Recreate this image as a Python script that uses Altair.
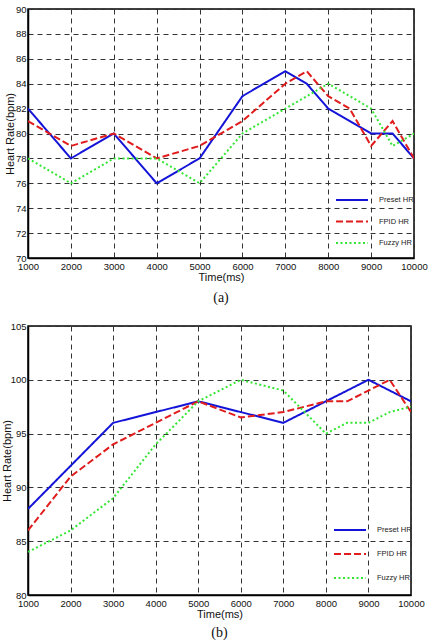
import altair as alt
import pandas as pd

# ---------- data (a) ----------
a_preset_x = [1000, 2000, 3000, 4000, 5000, 6000, 7000, 7500, 8000, 9000, 9500, 10000]
a_preset_y = [82, 78, 80, 76, 78, 83, 85, 84, 82, 80, 80, 78]
a_fpid_x = [1000, 2000, 3000, 4000, 5000, 6000, 7000, 7500, 8000, 8500, 9000, 9500, 10000]
a_fpid_y = [81, 79, 80, 78, 79, 81, 84, 85, 83, 82, 79, 81, 78]
a_fuzzy_x = [1000, 2000, 3000, 4000, 5000, 6000, 7000, 8000, 9000, 9500, 10000]
a_fuzzy_y = [78, 76, 78, 78, 76, 80, 82, 84, 82, 79, 80]
a_names = ["Preset HR", "FPID  HR", "Fuzzy  HR"]

# ---------- data (b) ----------
b_preset_x = [1000, 2000, 3000, 4000, 5000, 6000, 7000, 8000, 9000, 10000]
b_preset_y = [88, 92, 96, 97, 98, 97, 96, 98, 100, 98]
b_fpid_x = [1000, 2000, 3000, 4000, 5000, 6000, 7000, 8000, 8500, 9000, 9500, 10000]
b_fpid_y = [86, 91, 94, 96, 98, 96.5, 97, 98, 98, 99, 100, 97]
b_fuzzy_x = [1000, 1500, 2000, 3000, 4000, 5000, 6000, 7000, 8000, 8500, 9000, 9500, 10000]
b_fuzzy_y = [84, 85, 86, 89, 94, 98, 100, 99, 95, 96, 96, 97, 97.5]
b_names = ["Preset HR", "FPID HR", "Fuzzy HR"]

x_ticks = [1000, 2000, 3000, 4000, 5000, 6000, 7000, 8000, 9000, 10000]
a_y_ticks = [70, 72, 74, 76, 78, 80, 82, 84, 86, 88, 90]
b_y_ticks = [80, 85, 90, 95, 100, 105]

colors = ["#1414d8", "#e01c1c", "#33e633"]
dashes = [[1, 0], [7, 3], [2, 2.5]]


def frame(xs_list, ys_list, names):
    rows = []
    for xs, ys, n in zip(xs_list, ys_list, names):
        for x, y in zip(xs, ys):
            rows.append({"t": x, "hr": y, "series": n})
    return pd.DataFrame(rows)


df_a = frame([a_preset_x, a_fpid_x, a_fuzzy_x], [a_preset_y, a_fpid_y, a_fuzzy_y], a_names)
df_b = frame([b_preset_x, b_fpid_x, b_fuzzy_x], [b_preset_y, b_fpid_y, b_fuzzy_y], b_names)

FONT = "Liberation Sans"


def panel(df, names, y_dom, y_ticks, w, h, caption, cap_off, title_x, leg_x, leg_y, row_pad):
    legend = alt.Legend(
        title=None, orient="none", legendX=leg_x, legendY=leg_y,
        symbolType="M-3.2,0H3.2", symbolSize=100, symbolStrokeWidth=2,
        labelOffset=21, labelFontSize=7.5, labelFont=FONT, labelColor="#222",
        rowPadding=row_pad, padding=0,
    )
    return alt.Chart(df).mark_line(strokeWidth=2, clip=True).encode(
        x=alt.X("t:Q", title="Time(ms)",
                scale=alt.Scale(domain=[1000, 10000], nice=False),
                axis=alt.Axis(values=x_ticks, format="d")),
        y=alt.Y("hr:Q", title="Heart Rate(bpm)",
                scale=alt.Scale(domain=y_dom, nice=False, zero=False),
                axis=alt.Axis(values=y_ticks, format="d", titleX=title_x)),
        color=alt.Color("series:N", scale=alt.Scale(domain=names, range=colors), legend=legend),
        strokeDash=alt.StrokeDash("series:N", scale=alt.Scale(domain=names, range=dashes), legend=legend),
    ).properties(
        width=w, height=h,
        title=alt.TitleParams(caption, orient="bottom", font="Liberation Serif",
                              fontSize=14, fontWeight="normal", offset=cap_off, color="#111"),
    )


pa = panel(df_a, a_names, [70, 90], a_y_ticks, 386, 249, "(a)", 8.5, -13, 318, 185, 11.5)
pb = panel(df_b, b_names, [80, 105], b_y_ticks, 383, 269, "(b)", 6, -16, 316, 198, 14)

chart = alt.concat(pa, pb, columns=1, spacing=14, align="none").resolve_scale(
    color="independent", strokeDash="independent"
).resolve_legend(color="independent", strokeDash="independent").properties(
    padding={"left": 0, "top": 3, "right": 0, "bottom": 0},
    background="white",
).configure_view(
    stroke="black", strokeWidth=1.5
).configure_axis(
    domainColor="black", domainWidth=1.5, labelFlush=False,
    grid=True, gridColor="#333", gridDash=[5, 4], gridWidth=1, gridOpacity=1,
    ticks=False, labelFont=FONT, labelFontSize=9.5, labelColor="#111",
    titleFont=FONT, titleFontSize=11, titleFontWeight="normal", titleColor="#111",
).configure_axisY(titlePadding=0, labelPadding=2).configure_axisX(titlePadding=1, labelPadding=3)

chart.save("out.html", embed_options={"renderer": "svg", "actions": False})
